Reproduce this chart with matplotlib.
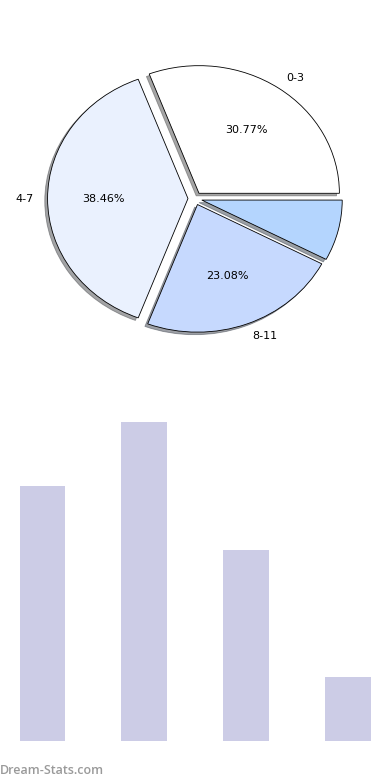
import matplotlib
matplotlib.use("Agg")
import matplotlib.pyplot as plt

categories = ["0-3", "4-7", "8-11", "12-15"]
counts = [4, 5, 3, 1]
pie_colors = ["#ffffff", "#eaf1fe", "#c6d9fe", "#b4d5fe"]
bar_color = "#ccccE6"

fig, (ax1, ax2) = plt.subplots(2, 1, figsize=(3.9, 7.8), dpi=100)
fig.subplots_adjust(left=0.05, right=0.95, bottom=0.05, top=0.95, hspace=0.2)

total = sum(counts)
labels = [c if v / total >= 0.1 else "" for c, v in zip(categories, counts)]

def fmt(p):
    return f"{p:.2f}%" if p >= 10 else ""

off = -0.02 * 72 / 100
wedges, texts, autotexts = ax1.pie(
    counts, labels=labels, colors=pie_colors, explode=[0.05] * len(counts),
    autopct=fmt, shadow={"ox": off, "oy": off}, startangle=0, counterclock=True,
    wedgeprops=dict(edgecolor="black", linewidth=0.6),
    textprops=dict(fontsize=8),
)
ax1.set_aspect("auto")
ax1.set_xlim(-1.25, 1.25)
ax1.set_ylim(-1.25, 1.25)

x = list(range(len(counts)))
ax2.bar(x, counts, width=0.45, color=bar_color)
ax2.set_xlim(-0.225, len(counts) - 1 + 0.225)
ax2.set_ylim(0, max(counts))
ax2.axis("off")

fig.text(0.0, 0.0128, "Dream-Stats.com", fontsize=9, color="#9a9a9a",
         ha="left", va="center", fontweight="semibold", family="Open Sans")

fig.savefig("out.png", dpi=100)
